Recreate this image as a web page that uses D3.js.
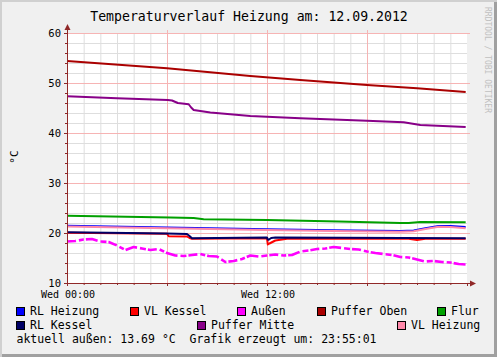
<!DOCTYPE html>
<html><head><meta charset="utf-8">
<script src="https://cdn.jsdelivr.net/npm/d3@7"></script>
<style>
html,body{margin:0;padding:0;background:#f0f0f0;}
svg{display:block;}
text{font-family:"DejaVu Sans Mono",monospace;}
</style></head>
<body><svg id="c" width="497" height="357"></svg>
<script>
// ---- data (hours since Wed 00:00, °C) ----
const title = "Temperaturverlauf Heizung am: 12.09.2012";
const yTicks = [10, 20, 30, 40, 50, 60];
const xTickHours = [0, 12];
const xTickLabels = ["Wed 00:00", "Wed 12:00"];
const footer = "aktuell außen: 13.69 °C  Grafik erzeugt um: 23:55:01";

const rlHeizungT = [0, 6, 12, 16, 20, 20.8, 21.5, 22.3, 23, 23.92];
const rlHeizungV = [21.45, 21.1, 20.75, 20.55, 20.4, 20.5, 20.95, 21.4, 21.4, 21.2];

const vlKesselT = [0, 6.0, 6.1, 7.2, 7.35, 7.5, 12, 12.05, 12.15, 12.5, 13.2, 20.5, 21.0, 21.5, 23.92];
const vlKesselV = [20.05, 19.85, 19.35, 19.3, 19.0, 18.85, 18.95, 17.7, 17.9, 18.5, 18.85, 18.85, 18.6, 18.85, 18.85];

const aussenT = [0,0.5,1,1.5,2,2.5,3,3.5,4,4.5,5,5.5,6,6.5,7,7.5,8,8.5,9,9.5,10,10.5,11,11.5,12,12.5,13,13.5,14,14.5,15,15.5,16,16.5,17,17.5,18,18.5,19,19.5,20,20.5,21,21.5,22,22.5,23,23.5,23.92];
const aussenV = [18.3,18.4,18.7,18.8,18.3,18.2,17.5,16.6,17.2,16.9,16.6,16.8,16.0,15.5,15.4,15.6,15.8,15.4,15.3,14.2,14.4,14.8,15.5,15.3,15.5,15.7,15.5,15.6,16.3,16.5,16.8,16.9,17.2,17.0,16.8,16.7,16.3,16.0,15.8,15.6,15.2,15.1,14.7,14.3,14.4,14.2,14.1,13.8,13.7];

const pufferObenT = [0, 6, 11, 14, 18, 21, 23.92];
const pufferObenV = [54.4, 52.95, 51.4, 50.6, 49.6, 48.95, 48.2];

const flurT = [0, 6.2, 7.6, 8.2, 12, 16.3, 20, 20.5, 21.2, 23.92];
const flurV = [23.45, 23.1, 23.0, 22.75, 22.6, 22.3, 22.0, 22.0, 22.2, 22.15];

const rlKesselT = [0, 6.0, 7.2, 7.35, 7.5, 12, 12.05, 12.1, 12.25, 12.5, 23.92];
const rlKesselV = [20.15, 19.9, 19.8, 19.4, 18.95, 19.1, 18.7, 18.65, 19.0, 19.1, 18.95];

const pufferMitteT = [0, 3, 6.05, 6.3, 6.65, 7.3, 7.45, 7.6, 8.6, 11, 14, 18, 20.2, 21.2, 23.92];
const pufferMitteV = [47.35, 46.95, 46.6, 46.5, 46.0, 45.75, 45.1, 44.6, 44.1, 43.4, 42.95, 42.45, 42.15, 41.6, 41.2];

const vlHeizungT = [0, 6, 12, 16, 20, 20.8, 21.5, 22.3, 23, 23.92];
const vlHeizungV = [21.3, 20.95, 20.6, 20.4, 20.25, 20.35, 20.8, 21.25, 21.2, 20.95];

const seriesNames = ["RL Heizung","VL Kessel","Außen","Puffer Oben","Flur","RL Kessel","Puffer Mitte","VL Heizung"];
const seriesT = [rlHeizungT, vlKesselT, aussenT, pufferObenT, flurT, rlKesselT, pufferMitteT, vlHeizungT];
const seriesV = [rlHeizungV, vlKesselV, aussenV, pufferObenV, flurV, rlKesselV, pufferMitteV, vlHeizungV];

// ---- styles ----
const colors = ["#0000ff","#ff0000","#ff00ff","#aa0000","#00a000","#000066","#880088","#ff88aa"];
const legendPos = [[16,315],[130,315],[237,315],[317,315],[437,315],[16,329],[197,329],[397,329]];

const W = 497, H = 357;
const svg = d3.select("#c");
const x = d3.scaleLinear().domain([0,24]).range([67,467]);
const y = d3.scaleLinear().domain([10,60]).range([283,33]);

// frame
svg.append("rect").attr("x",0).attr("y",0).attr("width",W).attr("height",H).attr("fill","#d0d0d0");
svg.append("rect").attr("x",2).attr("y",2).attr("width",W-2).attr("height",H-2).attr("fill","#a0a0a0");
svg.append("rect").attr("x",2).attr("y",2).attr("width",W-5).attr("height",H-5).attr("fill","#f0f0f0");

// plot bg
svg.append("rect").attr("x",x(0)).attr("y",y(60)).attr("width",x(24)-x(0)).attr("height",y(10)-y(60)).attr("fill","#ffffff");

const g = svg.append("g");
// minor grid
const minorX = d3.range(1,24).filter(h=>h%6!==0);
const minorY = d3.range(12,60,2).filter(v=>v%10!==0);
g.selectAll(".mx").data(minorX).enter().append("line")
 .attr("x1",d=>x(d)+0.5).attr("x2",d=>x(d)+0.5).attr("y1",y(10)).attr("y2",y(60))
 .attr("stroke","#dedede").attr("stroke-width",1);
g.selectAll(".my").data(minorY).enter().append("line")
 .attr("x1",x(0)).attr("x2",x(24)).attr("y1",d=>Math.round(y(d))+0.5).attr("y2",d=>Math.round(y(d))+0.5)
 .attr("stroke","#dedede").attr("stroke-width",1);
// major grid
g.selectAll(".Mx").data([6,12,18]).enter().append("line")
 .attr("x1",d=>x(d)+0.5).attr("x2",d=>x(d)+0.5).attr("y1",y(10)).attr("y2",y(60)-3)
 .attr("stroke","#f6b4b4").attr("stroke-width",1);
g.selectAll(".My").data([20,30,40,50,60]).enter().append("line")
 .attr("x1",x(0)-2).attr("x2",x(24)+3).attr("y1",d=>Math.round(y(d))+0.5).attr("y2",d=>Math.round(y(d))+0.5)
 .attr("stroke","#f6b4b4").attr("stroke-width",1);

// series
const line = d3.line().x(d=>x(d[0])).y(d=>y(d[1]));
seriesT.forEach((T,i)=>{
  const pts = T.map((t,j)=>[t, seriesV[i][j]]);
  const p = svg.append("path").attr("d", line(pts)).attr("fill","none")
    .attr("stroke", colors[i]).attr("stroke-width", i===2 ? 2.6 : 2)
    .attr("stroke-linejoin","round");
  if (i===2) p.attr("stroke-dasharray","9,3,5,2,12,3,6,2");
});

// axes
const axisCol = "#902828";
svg.append("line").attr("x1",x(0)+0.5).attr("x2",x(0)+0.5).attr("y1",y(10)+3).attr("y2",y(60)-6).attr("stroke",axisCol);
svg.append("line").attr("x1",x(0)-2).attr("x2",x(24)+5).attr("y1",y(10)+0.5).attr("y2",y(10)+0.5).attr("stroke",axisCol);
svg.append("path").attr("d",`M${x(0)-2.5},${y(60)-3} L${x(0)+3.5},${y(60)-3} L${x(0)+0.5},${y(60)-9} Z`).attr("fill",axisCol);
svg.append("path").attr("d",`M${x(24)+3},${y(10)-2.5} L${x(24)+3},${y(10)+3.5} L${x(24)+9},${y(10)+0.5} Z`).attr("fill",axisCol);
// ticks
svg.selectAll(".tx").data(d3.range(0,25)).enter().append("line")
 .attr("x1",d=>x(d)+0.5).attr("x2",d=>x(d)+0.5).attr("y1",y(10)).attr("y2",d=>y(10)+(d%6===0?3:2))
 .attr("stroke",axisCol);
svg.selectAll(".ty").data(d3.range(10,61,2)).enter().append("line")
 .attr("x1",d=>x(0)-(d%10===0?3:2)).attr("x2",x(0)).attr("y1",d=>Math.round(y(d))+0.5).attr("y2",d=>Math.round(y(d))+0.5)
 .attr("stroke",axisCol);

// labels
svg.selectAll(".yl").data(yTicks).enter().append("text")
 .attr("x",61).attr("y",d=>y(d)+4).attr("text-anchor","end")
 .attr("font-size","10.5px").attr("fill","#000").text(d=>d);
svg.selectAll(".xl").data(xTickHours).enter().append("text")
 .attr("x",d=>x(d)+1).attr("y",298).attr("text-anchor","middle")
 .attr("font-size","10px").attr("fill","#000").text((d,i)=>xTickLabels[i]);

svg.append("text").attr("x",249).attr("y",21).attr("text-anchor","middle")
 .attr("font-size","13.2px").attr("fill","#000").text(title);

svg.append("text").attr("transform","translate(18,157) rotate(-90)").attr("text-anchor","middle")
 .attr("font-size","11px").attr("fill","#000").text("°C");

svg.append("text").attr("transform","translate(485,7) rotate(90)").attr("text-anchor","start")
 .attr("font-size","8px").attr("fill","#c0c0c0").text("RRDTOOL / TOBI OETIKER");

// legend
seriesNames.forEach((n,i)=>{
  const [lx,ly] = legendPos[i];
  svg.append("rect").attr("x",lx+0.5).attr("y",ly-7.5).attr("width",8).attr("height",8)
    .attr("fill",colors[i]).attr("stroke","#000").attr("stroke-width",1);
  svg.append("text").attr("x",lx+14).attr("y",ly).attr("font-size","11.5px").attr("fill","#000").text(n);
});
svg.append("text").attr("x",16.5).attr("y",342.5).attr("font-size","11.5px").attr("fill","#000")
  .style("white-space","pre").text(footer);
</script></body></html>
